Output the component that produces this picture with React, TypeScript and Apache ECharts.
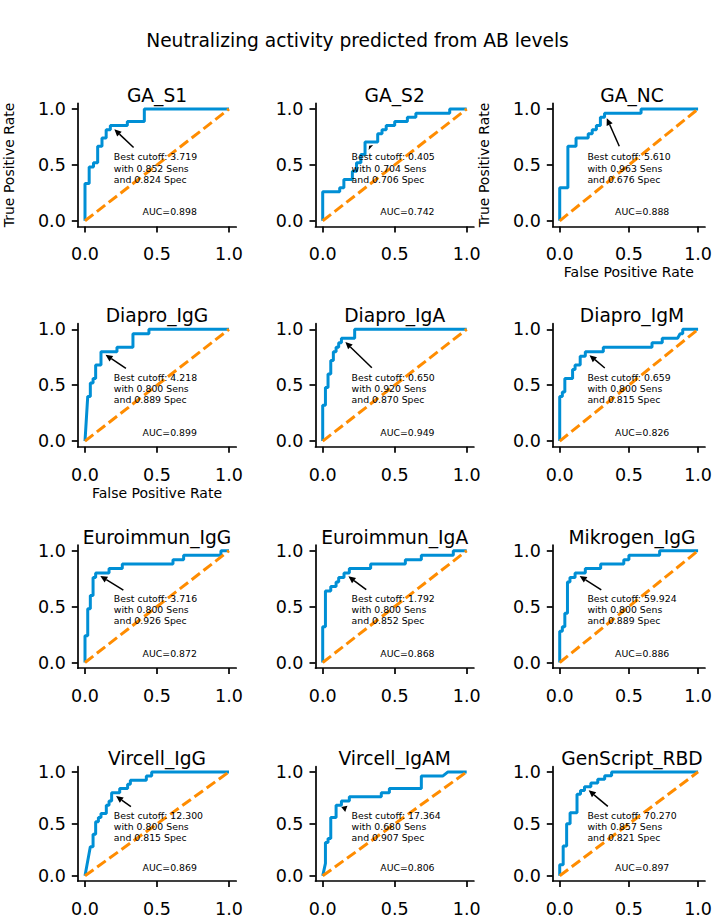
import React, { useEffect, useRef } from "react";
import * as echarts from "echarts";

const mainTitle = "Neutralizing activity predicted from AB levels";
const panelNames = ["GA_S1", "GA_S2", "GA_NC", "Diapro_IgG", "Diapro_IgA", "Diapro_IgM", "Euroimmun_IgG", "Euroimmun_IgA", "Mikrogen_IgG", "Vircell_IgG", "Vircell_IgAM", "GenScript_RBD"];
const cutoffs = ["3.719", "0.405", "5.610", "4.218", "0.650", "0.659", "3.716", "1.792", "59.924", "12.300", "17.364", "70.270"];
const sens = [0.852, 0.704, 0.963, 0.8, 0.92, 0.8, 0.8, 0.8, 0.8, 0.8, 0.68, 0.857];
const spec = [0.824, 0.706, 0.676, 0.889, 0.87, 0.815, 0.926, 0.852, 0.889, 0.815, 0.907, 0.821];
const aucs = [0.898, 0.742, 0.888, 0.899, 0.949, 0.826, 0.872, 0.868, 0.886, 0.869, 0.806, 0.897];
const tickValues = [0, 0.5, 1.0];

const fprGA_S1 = [0, 0, 0.029, 0.029, 0.059, 0.059, 0.088, 0.088, 0.118, 0.118, 0.147, 0.147, 0.176, 0.176, 0.294, 0.294, 0.412, 0.412, 1];
const tprGA_S1 = [0, 0.333, 0.333, 0.481, 0.481, 0.519, 0.519, 0.667, 0.667, 0.741, 0.741, 0.815, 0.815, 0.852, 0.852, 0.889, 0.889, 1, 1];
const fprGA_S2 = [0, 0, 0.118, 0.118, 0.147, 0.147, 0.206, 0.206, 0.235, 0.235, 0.265, 0.265, 0.294, 0.294, 0.382, 0.382, 0.412, 0.412, 0.441, 0.441, 0.5, 0.5, 0.588, 0.588, 0.647, 0.647, 0.882, 0.882, 1];
const tprGA_S2 = [0, 0.259, 0.259, 0.296, 0.296, 0.37, 0.37, 0.444, 0.444, 0.519, 0.519, 0.593, 0.593, 0.704, 0.704, 0.778, 0.778, 0.815, 0.815, 0.852, 0.852, 0.889, 0.889, 0.926, 0.926, 0.963, 0.963, 1, 1];
const fprGA_NC = [0, 0, 0.059, 0.059, 0.118, 0.118, 0.206, 0.206, 0.235, 0.235, 0.265, 0.265, 0.294, 0.294, 0.324, 0.324, 0.588, 0.588, 1];
const tprGA_NC = [0, 0.296, 0.296, 0.667, 0.667, 0.741, 0.741, 0.778, 0.778, 0.815, 0.815, 0.852, 0.852, 0.926, 0.926, 0.963, 0.963, 1, 1];
const fprDiaproIgG = [0, 0.019, 0.037, 0.037, 0.056, 0.056, 0.074, 0.074, 0.111, 0.111, 0.222, 0.222, 0.333, 0.333, 0.444, 0.444, 1];
const tprDiaproIgG = [0, 0.4, 0.4, 0.52, 0.52, 0.56, 0.56, 0.68, 0.68, 0.8, 0.8, 0.84, 0.84, 0.96, 0.96, 1, 1];
const fprDiaproIgA = [0, 0, 0.019, 0.019, 0.037, 0.037, 0.056, 0.056, 0.074, 0.074, 0.093, 0.093, 0.111, 0.111, 0.13, 0.13, 0.222, 0.222, 1];
const tprDiaproIgA = [0, 0.32, 0.32, 0.48, 0.48, 0.6, 0.6, 0.72, 0.72, 0.8, 0.8, 0.84, 0.84, 0.88, 0.88, 0.92, 0.92, 1, 1];
const fprDiaproIgM = [0, 0, 0.019, 0.019, 0.037, 0.037, 0.093, 0.093, 0.111, 0.111, 0.148, 0.148, 0.185, 0.185, 0.315, 0.315, 0.667, 0.667, 0.741, 0.741, 0.852, 0.87, 0.889, 0.889, 1];
const tprDiaproIgM = [0, 0.4, 0.4, 0.44, 0.44, 0.56, 0.56, 0.64, 0.64, 0.68, 0.68, 0.76, 0.76, 0.8, 0.8, 0.84, 0.84, 0.88, 0.88, 0.92, 0.92, 0.96, 0.96, 1, 1];
const fprEuroIgG = [0, 0, 0.019, 0.019, 0.037, 0.037, 0.056, 0.056, 0.074, 0.074, 0.167, 0.167, 0.259, 0.259, 0.611, 0.611, 0.685, 0.685, 0.944, 0.944, 1];
const tprEuroIgG = [0, 0.24, 0.24, 0.48, 0.48, 0.6, 0.6, 0.76, 0.76, 0.8, 0.8, 0.84, 0.84, 0.88, 0.88, 0.92, 0.92, 0.96, 0.96, 1, 1];
const fprEuroIgA = [0, 0, 0.019, 0.019, 0.056, 0.056, 0.093, 0.093, 0.111, 0.111, 0.148, 0.148, 0.185, 0.185, 0.333, 0.333, 0.574, 0.574, 0.685, 0.685, 0.907, 0.907, 1];
const tprEuroIgA = [0, 0.32, 0.32, 0.64, 0.64, 0.68, 0.68, 0.72, 0.72, 0.76, 0.76, 0.8, 0.8, 0.84, 0.84, 0.88, 0.88, 0.92, 0.92, 0.96, 0.96, 1, 1];
const fprMikrogen = [0, 0, 0.019, 0.019, 0.037, 0.037, 0.056, 0.056, 0.074, 0.074, 0.111, 0.111, 0.185, 0.185, 0.296, 0.296, 0.463, 0.463, 0.5, 0.5, 0.722, 0.722, 1];
const tprMikrogen = [0, 0.28, 0.28, 0.32, 0.32, 0.44, 0.44, 0.72, 0.72, 0.76, 0.76, 0.8, 0.8, 0.84, 0.84, 0.88, 0.88, 0.92, 0.92, 0.96, 0.96, 1, 1];
const fprVircellIgG = [0, 0.037, 0.056, 0.056, 0.074, 0.074, 0.093, 0.093, 0.111, 0.111, 0.148, 0.148, 0.167, 0.167, 0.185, 0.185, 0.241, 0.241, 0.296, 0.296, 0.315, 0.315, 0.426, 0.426, 0.463, 0.463, 1];
const tprVircellIgG = [0, 0.28, 0.28, 0.4, 0.4, 0.52, 0.52, 0.56, 0.56, 0.6, 0.6, 0.68, 0.68, 0.72, 0.72, 0.8, 0.8, 0.84, 0.84, 0.88, 0.88, 0.92, 0.92, 0.96, 0.96, 1, 1];
const fprVircellIgAM = [0, 0.019, 0.019, 0.037, 0.037, 0.056, 0.056, 0.093, 0.093, 0.13, 0.13, 0.185, 0.185, 0.407, 0.407, 0.463, 0.463, 0.685, 0.685, 0.833, 0.87, 1];
const tprVircellIgAM = [0, 0.12, 0.32, 0.32, 0.36, 0.36, 0.56, 0.56, 0.68, 0.68, 0.72, 0.72, 0.76, 0.76, 0.8, 0.8, 0.84, 0.84, 0.96, 0.96, 1, 1];
const fprGenScript = [0, 0, 0.025, 0.025, 0.05, 0.05, 0.075, 0.075, 0.125, 0.125, 0.15, 0.15, 0.179, 0.179, 0.225, 0.225, 0.275, 0.275, 0.325, 0.325, 0.375, 0.375, 1];
const tprGenScript = [0, 0.107, 0.107, 0.286, 0.286, 0.5, 0.5, 0.607, 0.607, 0.786, 0.786, 0.821, 0.821, 0.857, 0.857, 0.893, 0.893, 0.929, 0.929, 0.964, 0.964, 1, 1];

const fprList = [fprGA_S1, fprGA_S2, fprGA_NC, fprDiaproIgG, fprDiaproIgA, fprDiaproIgM, fprEuroIgG, fprEuroIgA, fprMikrogen, fprVircellIgG, fprVircellIgAM, fprGenScript];
const tprList = [tprGA_S1, tprGA_S2, tprGA_NC, tprDiaproIgG, tprDiaproIgA, tprDiaproIgM, tprEuroIgG, tprEuroIgA, tprMikrogen, tprVircellIgG, tprVircellIgAM, tprGenScript];

const FONT = "DejaVu Sans";
const BLUE = "#008fd5";
const ORANGE = "#ff8c00";
const colX0 = [85, 322.7, 560];
const rowY1 = [109, 329.3, 550.7, 772.3];
const X_UNIT = 144;
const Y_UNIT = 111.8;
const ANN_SIZE = 9.33;
const ANN_LH = 11.2;
const TICK_SIZE = 17.5;

function measure(text: string): number {
  const c = document.createElement("canvas").getContext("2d");
  if (!c) return text.length * 4.8;
  c.font = `${ANN_SIZE}px "${FONT}"`;
  return c.measureText(text).width;
}

export default function App() {
  const ref = useRef<HTMLDivElement>(null);
  useEffect(() => {
    if (!ref.current) return;
    const chart = echarts.init(ref.current, null, { renderer: "svg" });
    const grids: any[] = [];
    const xAxes: any[] = [];
    const yAxes: any[] = [];
    const series: any[] = [];
    const graphics: any[] = [
      {
        type: "text",
        x: 357.5,
        y: 40,
        style: { text: mainTitle, fontSize: 18.67, fontFamily: FONT, fill: "#000", align: "center", verticalAlign: "middle" },
      },
    ];
    panelNames.forEach((name, i) => {
      const r = Math.floor(i / 3);
      const c = i % 3;
      const left = colX0[c] - 0.05 * X_UNIT;
      const top = rowY1[r] - 0.05 * Y_UNIT;
      grids.push({ left, top, width: 1.1 * X_UNIT, height: 1.1 * Y_UNIT });
      graphics.push({
        type: "text",
        x: colX0[c] + 0.5 * X_UNIT,
        y: top - 8,
        style: { text: name, fontSize: 18.67, fontFamily: FONT, fill: "#000", align: "center", verticalAlign: "middle" },
      });
      const axisCommon = {
        gridIndex: i,
        type: "value",
        min: -0.05,
        max: 1.05,
        splitLine: { show: false },
        axisLine: { show: true, onZero: false, lineStyle: { color: "#000", width: 1.7 } },
        axisTick: { show: true, length: 6, customValues: tickValues, lineStyle: { color: "#000", width: 1.7 } },
        nameLocation: "middle",
        nameTextStyle: { fontSize: 14, fontFamily: FONT, color: "#000" },
      };
      xAxes.push({
        ...axisCommon,
        axisLabel: { customValues: tickValues, formatter: (v: number) => v.toFixed(1), color: "#000", fontSize: TICK_SIZE, fontFamily: FONT, margin: 19 },
        name: i === 2 || i === 3 ? "False Positive Rate" : "",
        nameGap: 39,
      });
      yAxes.push({
        ...axisCommon,
        axisLabel: { customValues: tickValues, formatter: (v: number) => v.toFixed(1), color: "#000", fontSize: TICK_SIZE, fontFamily: FONT, margin: 12 },
        name: i === 0 || i === 2 ? "True Positive Rate" : "",
        nameGap: 62,
      });
      const fpr = fprList[i];
      const tpr = tprList[i];
      series.push({
        type: "line",
        xAxisIndex: i,
        yAxisIndex: i,
        data: fpr.map((x, k) => [x, tpr[k]]),
        showSymbol: false,
        symbol: "none",
        lineStyle: { color: BLUE, width: 3 },
        z: 2,
        silent: true,
      });
      series.push({
        type: "line",
        xAxisIndex: i,
        yAxisIndex: i,
        data: [[0, 0], [1, 1]],
        showSymbol: false,
        symbol: "none",
        lineStyle: { color: ORANGE, width: 3, type: [10.5, 4.5], cap: "butt" },
        z: 3,
        silent: true,
      });
      const bestX = 1 - spec[i];
      const bestY = sens[i];
      const lines = [`Best cutoff: ${cutoffs[i]}`, `with ${sens[i].toFixed(3)} Sens`, `and ${spec[i].toFixed(3)} Spec`];
      const textW = Math.max(...lines.map(measure));
      const aucText = `AUC=${aucs[i].toFixed(3)}`;
      series.push({
        type: "custom",
        xAxisIndex: i,
        yAxisIndex: i,
        coordinateSystem: "cartesian2d",
        data: [[bestX, bestY]],
        encode: { x: 0, y: 1 },
        clip: false,
        silent: true,
        z: 10,
        renderItem: (_params: any, api: any) => {
          const [px, py] = api.coord([bestX, bestY]);
          const [tx, tyMid] = api.coord([0.2, 0.472]);
          const [ax, ay] = api.coord([0.4, 0.08]);
          const tTop = tyMid - 1.5 * ANN_LH;
          const tBottom = tyMid + 1.5 * ANN_LH;
          const tLeft = tx;
          const tRight = tx + textW;
          const cx = (tLeft + tRight) / 2;
          const cy = tyMid;
          const dx = px - cx;
          const dy = py - cy;
          const L = Math.hypot(dx, dy);
          const ux = dx / L;
          const uy = dy / L;
          let tExit = Infinity;
          if (ux > 0) tExit = Math.min(tExit, (tRight - cx) / ux);
          if (ux < 0) tExit = Math.min(tExit, (tLeft - cx) / ux);
          if (uy > 0) tExit = Math.min(tExit, (tBottom - cy) / uy);
          if (uy < 0) tExit = Math.min(tExit, (tTop - cy) / uy);
          const tStart = tExit + 5.5;
          const tEnd = L - 5.5;
          const children: any[] = [
            {
              type: "text",
              x: tx,
              y: tyMid,
              style: { text: lines.join("\n"), fontSize: ANN_SIZE, fontFamily: FONT, fill: "#000", align: "left", verticalAlign: "middle", lineHeight: ANN_LH },
            },
            {
              type: "text",
              x: ax,
              y: ay,
              style: { text: aucText, fontSize: ANN_SIZE, fontFamily: FONT, fill: "#000", align: "left", verticalAlign: "middle" },
            },
          ];
          if (tEnd > tStart) {
            const hl = Math.min(7, tEnd - tStart);
            const hw = 3.3;
            const tipX = cx + ux * tEnd;
            const tipY = cy + uy * tEnd;
            const baseX = tipX - ux * hl;
            const baseY = tipY - uy * hl;
            const sx = cx + ux * tStart;
            const sy = cy + uy * tStart;
            if (tEnd - tStart > hl + 0.5) {
              children.push({ type: "line", shape: { x1: sx, y1: sy, x2: baseX, y2: baseY }, style: { stroke: "#000", lineWidth: 1.5 } });
            }
            children.push({
              type: "polygon",
              shape: { points: [[tipX, tipY], [baseX - uy * hw, baseY + ux * hw], [baseX + uy * hw, baseY - ux * hw]] },
              style: { fill: "#000" },
            });
          }
          return { type: "group", children };
        },
      });
    });
    chart.setOption({
      animation: false,
      backgroundColor: "#fff",
      grid: grids,
      xAxis: xAxes,
      yAxis: yAxes,
      series,
      graphic: graphics,
    });
    return () => chart.dispose();
  }, []);
  return <div ref={ref} style={{ position: "fixed", left: 0, top: 0, width: 715, height: 918 }} />;
}
